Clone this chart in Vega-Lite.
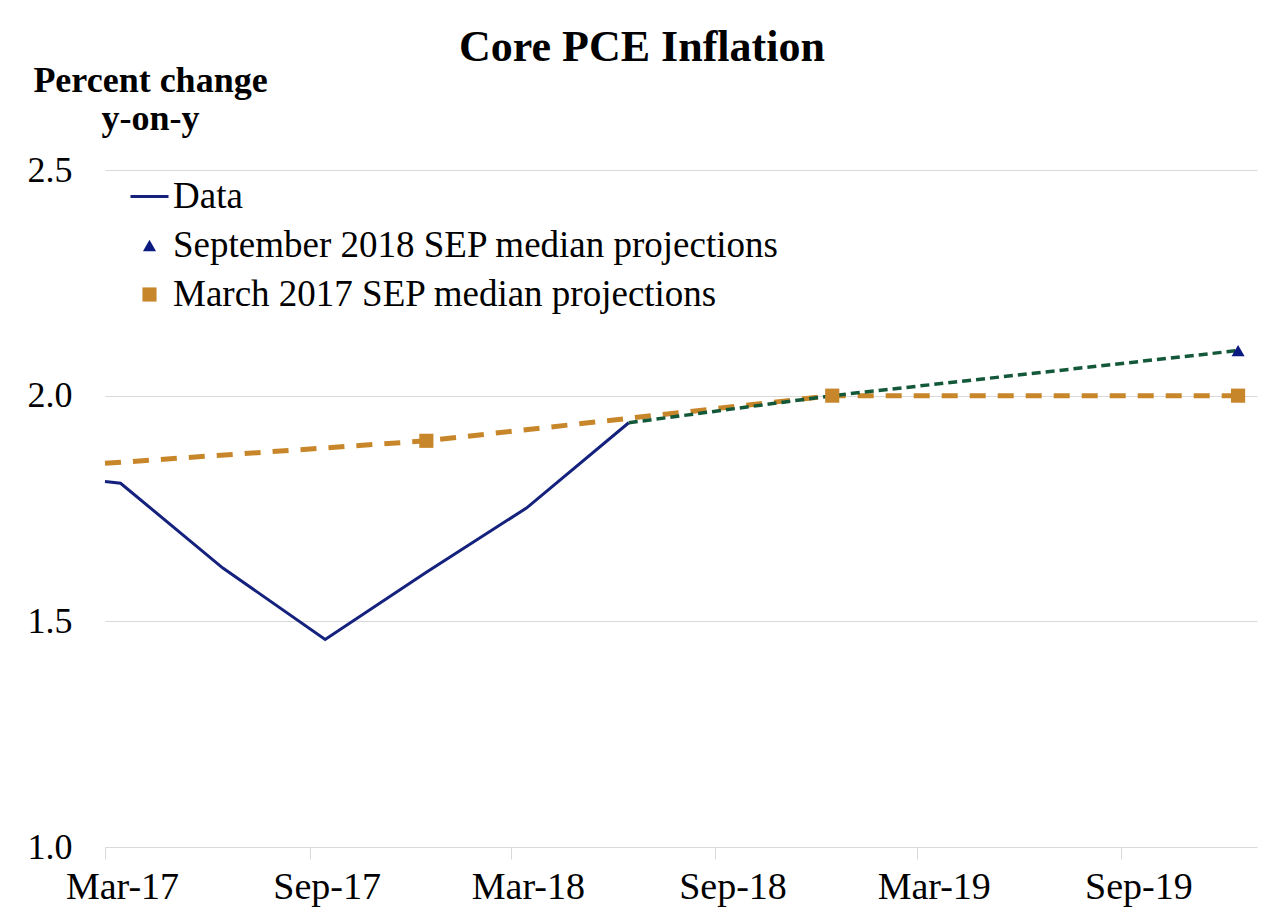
{
  "$schema": "https://vega.github.io/schema/vega-lite/v6.json",
  "width": 1152,
  "height": 677,
  "autosize": {"type": "none"},
  "padding": {"left": 105, "top": 170, "right": 5, "bottom": 76},
  "background": "white",
  "title": {
    "text": "Core PCE Inflation",
    "font": "Liberation Serif",
    "fontSize": 44,
    "fontWeight": "bold",
    "color": "black",
    "anchor": "middle",
    "frame": "bounds",
    "offset": -8
  },
  "config": {
    "view": {"stroke": null},
    "font": "Liberation Serif",
    "legend": {
      "title": null,
      "orient": "none",
      "legendX": 24,
      "legendY": 6,
      "padding": 0,
      "symbolSize": 1444,
      "rowPadding": 11,
      "labelOffset": 3,
      "labelFont": "Liberation Serif",
      "labelFontSize": 37,
      "labelColor": "black",
      "labelLimit": 0
    }
  },
  "data": {
    "values": [
      {"series": "Data", "date": "2017/03/01", "value": 1.81},
      {"series": "Data", "date": "2017/03/15", "value": 1.806},
      {"series": "Data", "date": "2017/06/15", "value": 1.618},
      {"series": "Data", "date": "2017/09/15", "value": 1.46},
      {"series": "Data", "date": "2017/12/15", "value": 1.609},
      {"series": "Data", "date": "2018/03/15", "value": 1.751},
      {"series": "Data", "date": "2018/06/15", "value": 1.94},
      {"series": "September 2018 SEP median projections", "date": "2018/06/15", "value": 1.94},
      {"series": "September 2018 SEP median projections", "date": "2018/12/15", "value": 2.0},
      {"series": "September 2018 SEP median projections", "date": "2019/12/15", "value": 2.1},
      {"series": "March 2017 SEP median projections", "date": "2017/03/01", "value": 1.85},
      {"series": "March 2017 SEP median projections", "date": "2017/12/15", "value": 1.9},
      {"series": "March 2017 SEP median projections", "date": "2018/12/15", "value": 2.0},
      {"series": "March 2017 SEP median projections", "date": "2019/12/15", "value": 2.0}
    ]
  },
  "encoding": {
    "x": {
      "field": "date",
      "type": "temporal",
      "scale": {"domain": [{"year": 2017, "month": 3, "date": 1}, {"year": 2020, "month": 1, "date": 1}]},
      "axis": {
        "title": null,
        "values": [
          {"year": 2017, "month": 3, "date": 1},
          {"year": 2017, "month": 9, "date": 1},
          {"year": 2018, "month": 3, "date": 1},
          {"year": 2018, "month": 9, "date": 1},
          {"year": 2019, "month": 3, "date": 1},
          {"year": 2019, "month": 9, "date": 1}
        ],
        "format": "%b-%y",
        "grid": false,
        "domain": false,
        "ticks": true,
        "tickColor": "#D9D9D9",
        "tickSize": 12,
        "labelOffset": 17,
        "labelPadding": 9,
        "labelFont": "Liberation Serif",
        "labelFontSize": 38,
        "labelColor": "black",
        "labelFlush": false,
        "labelOverlap": false
      }
    },
    "y": {
      "field": "value",
      "type": "quantitative",
      "scale": {"domain": [1, 2.5], "nice": false, "zero": false},
      "axis": {
        "title": ["Percent change", "y-on-y"],
        "titleFont": "Liberation Serif",
        "titleFontSize": 36,
        "titleFontWeight": "bold",
        "titleColor": "black",
        "titleAngle": 0,
        "titleAlign": "center",
        "titleBaseline": "alphabetic",
        "titleX": 45,
        "titleY": -79,
        "titleLineHeight": 38,
        "values": [1, 1.5, 2, 2.5],
        "format": ".1f",
        "grid": true,
        "gridColor": "#D9D9D9",
        "gridWidth": 1,
        "domain": false,
        "ticks": false,
        "labelPadding": 33,
        "labelFont": "Liberation Serif",
        "labelFontSize": 36,
        "labelColor": "black"
      }
    }
  },
  "layer": [
    {
      "transform": [{"filter": "datum.series === 'March 2017 SEP median projections'"}],
      "mark": {"type": "line", "color": "#C8862A", "strokeWidth": 5, "strokeDash": [16, 12]}
    },
    {
      "transform": [{"filter": "datum.series === 'Data'"}],
      "mark": {"type": "line", "color": "#14217D", "strokeWidth": 3}
    },
    {
      "transform": [{"filter": "datum.series === 'September 2018 SEP median projections'"}],
      "mark": {"type": "line", "color": "#14583A", "strokeWidth": 3.5, "strokeDash": [9, 5]}
    },
    {
      "transform": [{"filter": "(datum.series === 'March 2017 SEP median projections' && toDate(datum.date) >= datetime(2017, 11, 1)) || (datum.series === 'September 2018 SEP median projections' && toDate(datum.date) >= datetime(2019, 0, 1))"}],
      "mark": {"type": "point", "filled": true, "opacity": 1},
      "encoding": {
        "color": {
          "field": "series",
          "type": "nominal",
          "scale": {
            "domain": ["Data", "September 2018 SEP median projections", "March 2017 SEP median projections"],
            "range": ["#14217D", "#0B1A80", "#C8862A"]
          },
          "legend": {"title": null}
        },
        "stroke": {
          "field": "series",
          "type": "nominal",
          "scale": {
            "domain": ["Data", "September 2018 SEP median projections", "March 2017 SEP median projections"],
            "range": ["#14217D", "#0B1A80", "#C8862A"]
          },
          "legend": {"title": null}
        },
        "shape": {
          "field": "series",
          "type": "nominal",
          "scale": {
            "domain": ["Data", "September 2018 SEP median projections", "March 2017 SEP median projections"],
            "range": ["stroke", "triangle-up", "square"]
          },
          "legend": {"title": null}
        },
        "size": {
          "field": "series",
          "type": "nominal",
          "scale": {
            "type": "ordinal",
            "domain": ["Data", "September 2018 SEP median projections", "March 2017 SEP median projections"],
            "range": [1444, 170, 200]
          },
          "legend": {"title": null}
        },
        "strokeWidth": {
          "field": "series",
          "type": "nominal",
          "scale": {
            "type": "ordinal",
            "domain": ["Data", "September 2018 SEP median projections", "March 2017 SEP median projections"],
            "range": [3, 0, 0]
          },
          "legend": {"title": null}
        }
      }
    }
  ]
}
